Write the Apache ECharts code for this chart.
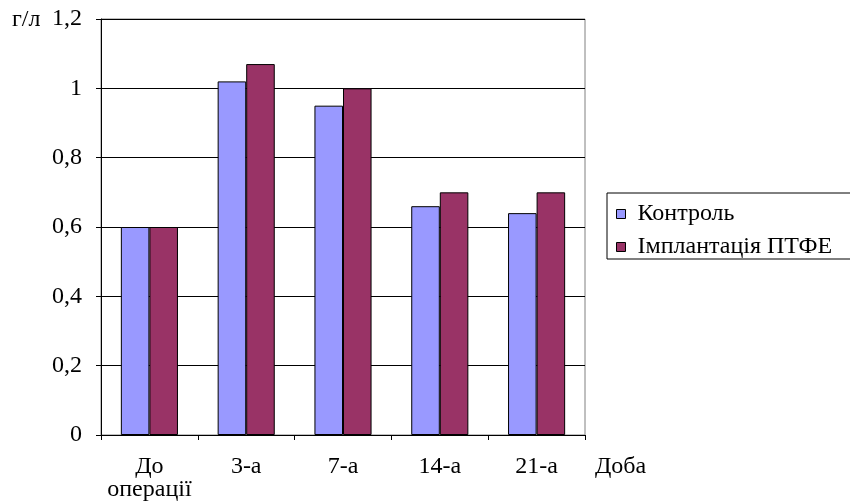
<!DOCTYPE html>
<html><head><meta charset="utf-8">
<script src="https://cdn.jsdelivr.net/npm/echarts@6/dist/echarts.min.js"></script>
<style>html,body{margin:0;padding:0;background:#fff}#c{width:850px;height:504px}</style>
</head><body><div id="c"></div>
<script>
const categories = ['До\nоперації', '3-а', '7-а', '14-а', '21-а'];
const control = [0.6, 1.02, 0.95, 0.66, 0.64];
const ptfe = [0.6, 1.07, 1.0, 0.7, 0.7];
const seriesNames = ['Контроль', 'Імплантація ПТФЕ'];
const yUnit = 'г/л';
const xName = 'Доба';

const FONT = 'Liberation Serif';
const FS = 24;
const chart = echarts.init(document.getElementById('c'), null, {renderer: 'canvas'});
chart.setOption({
  animation: false,
  backgroundColor: '#fff',
  textStyle: {fontFamily: FONT},
  grid: {left: 101, right: 265, top: 19, bottom: 69, show: true, borderColor: '#808080', borderWidth: 1, backgroundColor: 'transparent'},
  legend: {
    orient: 'vertical', left: 607, top: 193,
    data: seriesNames,
    icon: 'rect', itemWidth: 9, itemHeight: 9, itemGap: 9,
    padding: [9, 40, 0, 9],
    borderColor: '#000', borderWidth: 1,
    textStyle: {fontFamily: FONT, fontSize: FS, lineHeight: 24, color: '#000', padding: [0, 0, 0, 7]},
    itemStyle: {borderColor: '#000', borderWidth: 1}
  },
  graphic: [
    {type: 'text', left: 12, top: 8, style: {text: yUnit, fontFamily: FONT, fontSize: FS, fill: '#000'}},
    {type: 'text', left: 595, top: 455, style: {text: xName, fontFamily: FONT, fontSize: FS, fill: '#000'}}
  ],
  xAxis: {
    type: 'category', data: categories,
    axisLine: {lineStyle: {color: '#000', width: 1}},
    axisTick: {show: true, length: 5, interval: 0, lineStyle: {color: '#000'}},
    axisLabel: {interval: 0, color: '#000', fontFamily: FONT, fontSize: FS, margin: 20, lineHeight: 23}
  },
  yAxis: {
    type: 'value', min: 0, max: 1.2, interval: 0.2,
    axisLine: {show: true, lineStyle: {color: '#000', width: 1}},
    axisTick: {show: true, length: 5, lineStyle: {color: '#000'}},
    splitLine: {lineStyle: {color: '#000', width: 1}},
    axisLabel: {color: '#000', fontFamily: FONT, fontSize: FS, margin: 19,
      formatter: v => String(+v.toFixed(1)).replace('.', ',')}
  },
  series: [
    {name: seriesNames[0], type: 'bar', data: control, barGap: '0%', barCategoryGap: '41%',
     itemStyle: {color: '#9999FF', borderColor: '#000', borderWidth: 1}},
    {name: seriesNames[1], type: 'bar', data: ptfe, barGap: '0%', barCategoryGap: '41%',
     itemStyle: {color: '#993366', borderColor: '#000', borderWidth: 1}}
  ]
});
</script></body></html>
